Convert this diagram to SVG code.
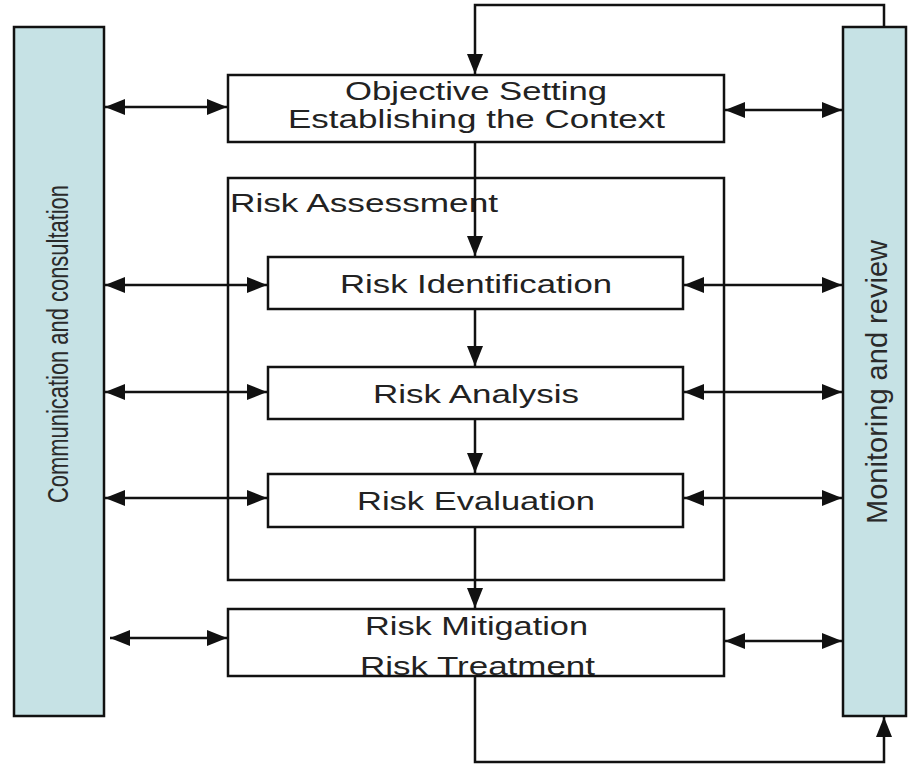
<svg xmlns="http://www.w3.org/2000/svg" width="918" height="764" viewBox="0 0 918 764">
  <style>
    .side { fill: #c6e2e5; stroke: #111; stroke-width: 2.5; }
    .box { fill: #fff; stroke: #111; stroke-width: 2.5; }
    .frame { fill: none; stroke: #111; stroke-width: 2.5; }
    .lbl { font-family: "Liberation Sans", Arial, sans-serif; font-size: 25px; fill: #222; }
    .vlbl { font-family: "Liberation Sans", Arial, sans-serif; font-size: 29px; fill: #2a2a2a; text-anchor: middle; }
    .link { fill: none; stroke: #111; stroke-width: 2.5; }
    .both { marker-start: url(#head-start); marker-end: url(#head-end); }
    .one { marker-end: url(#head-end); }
  </style>
  <defs>
    <marker id="head-end" markerUnits="userSpaceOnUse" markerWidth="22" markerHeight="18" refX="20" refY="8" orient="auto">
      <path d="M0,0 L20,8 L0,16 Z" fill="#111"/>
    </marker>
    <marker id="head-start" markerUnits="userSpaceOnUse" markerWidth="22" markerHeight="18" refX="0" refY="8" orient="auto">
      <path d="M20,0 L0,8 L20,16 Z" fill="#111"/>
    </marker>
  </defs>

  <rect width="918" height="764" fill="#fff"/>

  <!-- side columns -->
  <g id="communication">
    <rect class="side" x="14" y="27" width="90" height="689"/>
    <text class="vlbl" transform="translate(68,344) rotate(-90)" textLength="318" lengthAdjust="spacingAndGlyphs">Communication and consultation</text>
  </g>
  <g id="monitoring">
    <rect class="side" x="843" y="27" width="63" height="689"/>
    <text class="vlbl" transform="translate(887,382) rotate(-90)" textLength="284" lengthAdjust="spacingAndGlyphs">Monitoring and review</text>
  </g>

  <!-- process steps -->
  <g id="objective">
    <rect class="box" x="228" y="75" width="496" height="67"/>
    <text class="lbl" x="345" y="100" textLength="262" lengthAdjust="spacingAndGlyphs">Objective Setting</text>
    <text class="lbl" x="288" y="128" textLength="377" lengthAdjust="spacingAndGlyphs">Establishing the Context</text>
  </g>

  <g id="assessment">
    <rect class="frame" x="228" y="178" width="496" height="402"/>
    <text class="lbl" x="230" y="212" textLength="268" lengthAdjust="spacingAndGlyphs">Risk Assessment</text>
  </g>

  <g id="identification">
    <rect class="box" x="268" y="257" width="415" height="52"/>
    <text class="lbl" x="340" y="293" textLength="272" lengthAdjust="spacingAndGlyphs">Risk Identification</text>
  </g>

  <g id="analysis">
    <rect class="box" x="268" y="367" width="415" height="52"/>
    <text class="lbl" x="373" y="403" textLength="206" lengthAdjust="spacingAndGlyphs">Risk Analysis</text>
  </g>

  <g id="evaluation">
    <rect class="box" x="268" y="474" width="415" height="53"/>
    <text class="lbl" x="357" y="510" textLength="238" lengthAdjust="spacingAndGlyphs">Risk Evaluation</text>
  </g>

  <g id="treatment">
    <rect class="box" x="228" y="609" width="496" height="67"/>
    <text class="lbl" x="365" y="635" textLength="223" lengthAdjust="spacingAndGlyphs">Risk Mitigation</text>
    <text class="lbl" x="360" y="675" textLength="235" lengthAdjust="spacingAndGlyphs">Risk Treatment</text>
  </g>

  <!-- connectors -->
  <g id="connectors">
    <!-- two-way links to the side columns -->
    <line class="link both" x1="105" y1="107" x2="227" y2="107"/>
    <line class="link both" x1="725" y1="110" x2="842" y2="110"/>
    <line class="link both" x1="105" y1="285" x2="267" y2="285"/>
    <line class="link both" x1="684" y1="285" x2="842" y2="285"/>
    <line class="link both" x1="105" y1="392" x2="267" y2="392"/>
    <line class="link both" x1="684" y1="392" x2="842" y2="392"/>
    <line class="link both" x1="105" y1="498" x2="267" y2="498"/>
    <line class="link both" x1="684" y1="498" x2="842" y2="498"/>
    <line class="link both" x1="110" y1="638" x2="227" y2="638"/>
    <line class="link both" x1="725" y1="641" x2="842" y2="641"/>

    <!-- main flow -->
    <line class="link one" x1="475" y1="143" x2="475" y2="256"/>
    <line class="link one" x1="475" y1="310" x2="475" y2="366"/>
    <line class="link one" x1="475" y1="420" x2="475" y2="473"/>
    <line class="link one" x1="475" y1="528" x2="475" y2="608"/>

    <!-- feedback loops -->
    <path class="link one" d="M884,26 V5 H475 V74"/>
    <path class="link one" d="M475,677 V762 H884 V717"/>
  </g>
</svg>
